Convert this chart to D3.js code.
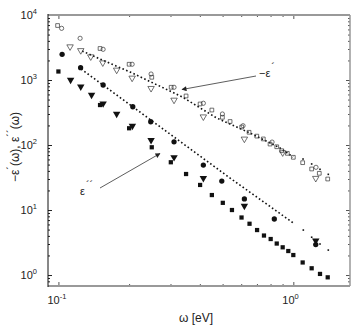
<!DOCTYPE html>
<html><head><meta charset="utf-8">
<script src="https://cdn.jsdelivr.net/npm/d3@7"></script>
<style>body{margin:0;background:#fff}svg{display:block}text{font-family:"Liberation Sans",Arial,sans-serif;fill:#222}</style>
</head><body>
<svg id="c" width="354" height="327"></svg>
<script>
// ---- data (omega in eV, values) ----
const epsRealSquares = [[0.0992,6890],[0.1504,3054],[0.2,1747],[0.2497,1101],[0.302,773],[0.3495,568],[0.401,428],[0.45,345],[0.499,267],[0.538,230],[0.603,189],[0.648,157],[0.699,137],[0.745,124],[0.796,103.5],[0.85,94],[0.893,81.7],[0.943,74.5],[1.0,64.7],[1.096,53.5],[1.197,42.8],[1.29,36.7],[1.401,30]];
const epsRealCircles = [[0.1032,6237],[0.1237,4383],[0.155,2965],[0.206,1747],[0.248,1236],[0.3106,773],[0.414,439],[0.499,300],[0.611,198],[0.812,111],[1.249,45.4]];
const epsRealTriangles = [[0.1121,3254],[0.1245,2845],[0.1373,2281],[0.1545,1845],[0.177,1426],[0.206,1074],[0.248,745],[0.3106,492],[0.414,272],[0.619,124],[0.901,76.3],[1.246,30.8]];
const epsRealTheory = [[0.1262,2794],[0.1504,2104],[0.2019,1327],[0.248,931],[0.335,554],[0.472,260],[0.654,153],[0.878,90],[0.997,65.3]];
const epsRealTheorySparse = [[1.1,60.9],[1.197,51.1],[1.299,42.3],[1.409,35.4]];

const epsImagCircles = [[0.1037,2483],[0.1243,1545],[0.155,838],[0.2073,388],[0.2472,228],[0.3106,112],[0.414,49.2],[0.496,27.9],[0.619,14.8],[0.83,7.28],[1.246,2.94]];
const epsImagTriangles = [[0.1127,1000],[0.1245,789],[0.1384,588],[0.155,434],[0.177,300],[0.2065,196],[0.248,119],[0.3106,64.7],[0.414,30.8],[0.619,11.6],[1.246,3.37]];
const epsImagSquares = [[0.1,1352],[0.1504,412],[0.2,181],[0.2497,92.3],[0.301,54.3],[0.3495,35.8],[0.401,24.3],[0.45,17.0],[0.501,12.9],[0.548,10.0],[0.602,7.67],[0.651,6.15],[0.701,4.92],[0.75,4.05],[0.801,3.58],[0.85,3.05],[0.901,2.67],[0.952,2.34],[1.0,2.03],[1.096,1.56],[1.197,1.27],[1.299,1.04],[1.401,0.922]];
const epsImagTheory = [[0.1249,1476],[0.2472,243],[0.538,31.0],[1.0,6.31]];
const epsImagTheorySparse = [[1.103,4.92],[1.197,3.815],[1.299,3.0],[1.409,2.42]];

const xMajorTicks = [0.1, 1];
const yMajorTicks = [1, 10, 100, 1000, 10000];
const xTickExp = ["-1", "0"];
const yTickExp = ["0", "1", "2", "3", "4"];

// ---- layout ----
const L = 48, R = 350, T = 15, B = 286;
const svg = d3.select("#c");
const x = d3.scaleLog().domain([0.0903, 1.743]).range([L, R]);
const y = d3.scaleLog().domain([0.678, 10000]).range([B, T]);

// minor ticks
const xMinor = [], yMinor = [];
for (const d of [0.01, 0.1, 1]) for (let k = 2; k <= 9; k++) { const v = d * k; if (v > x.domain()[0] && v < x.domain()[1]) xMinor.push(v); }
for (const d of [0.1, 1, 10, 100, 1000]) for (let k = 2; k <= 9; k++) { const v = d * k; if (v > y.domain()[0] && v < y.domain()[1]) yMinor.push(v); }

const g = svg.append("g");
function axisTicks(axisFn, scale, vals, size, tr, col) {
  const a = axisFn(scale).tickValues(vals).tickSize(size).tickFormat("");
  const ag = g.append("g").attr("transform", tr).call(a);
  ag.select(".domain").remove();
  ag.selectAll("line").attr("stroke", col).attr("stroke-width", 1);
}
// inward ticks
axisTicks(d3.axisBottom, x, xMajorTicks, -4, `translate(0,${B})`, "#555");
axisTicks(d3.axisBottom, x, xMinor, -2, `translate(0,${B})`, "#555");
axisTicks(d3.axisTop, x, xMajorTicks, -4, `translate(0,${T})`, "#555");
axisTicks(d3.axisTop, x, xMinor, -2, `translate(0,${T})`, "#555");
axisTicks(d3.axisLeft, y, yMajorTicks, -4, `translate(${L},0)`, "#222");
axisTicks(d3.axisLeft, y, yMinor, -2, `translate(${L},0)`, "#222");
axisTicks(d3.axisRight, y, yMajorTicks, -4, `translate(${R},0)`, "#555");
axisTicks(d3.axisRight, y, yMinor, -2, `translate(${R},0)`, "#555");

// frame
g.append("line").attr("x1", L).attr("x2", R).attr("y1", T).attr("y2", T).attr("stroke", "#999").attr("stroke-width", 2);
g.append("line").attr("x1", L).attr("x2", R).attr("y1", B).attr("y2", B).attr("stroke", "#999").attr("stroke-width", 2);
g.append("line").attr("x1", R).attr("x2", R).attr("y1", T).attr("y2", B).attr("stroke", "#999").attr("stroke-width", 1.5);
g.append("line").attr("x1", L).attr("x2", L).attr("y1", T - 1).attr("y2", B + 1).attr("stroke", "#111").attr("stroke-width", 1);

// tick labels
yMajorTicks.forEach((v, i) => {
  const t = g.append("text").attr("x", 37).attr("y", y(v) + 4).attr("text-anchor", "end").attr("font-size", 11);
  t.append("tspan").text("10");
  t.append("tspan").attr("dy", -5).attr("font-size", 7.5).text(yTickExp[i]);
});
xMajorTicks.forEach((v, i) => {
  const t = g.append("text").attr("x", x(v) - 11).attr("y", 304).attr("font-size", 11);
  t.append("tspan").text("10");
  t.append("tspan").attr("dy", -5).attr("font-size", 7.5).text(xTickExp[i]);
});

// axis titles
const xl = g.append("text").attr("x", 196).attr("y", 322).attr("text-anchor", "middle").attr("font-size", 12);
xl.append("tspan").text("ω [eV]");
const yl = g.append("text").attr("transform", "translate(19,147) rotate(-90)").attr("text-anchor", "middle").attr("font-size", 12);
yl.append("tspan").text("−ε");
yl.append("tspan").attr("dy", -4).attr("font-size", 11).text("´");
yl.append("tspan").attr("dy", 4).text("(ω), ε");
yl.append("tspan").attr("dy", -4).attr("font-size", 11).text("´´");
yl.append("tspan").attr("dy", 4).text("(ω)");

// theory dotted lines
const line = d3.line().x(d => x(d[0])).y(d => y(d[1]));
[epsRealTheory, epsImagTheory].forEach(s => {
  g.append("path").attr("d", line(s)).attr("fill", "none").attr("stroke", "#111").attr("stroke-width", 1.6).attr("stroke-dasharray", "1.6,2.4");
});
[epsRealTheorySparse, epsImagTheorySparse].forEach(s => {
  g.selectAll(null).data(s).enter().append("rect")
    .attr("x", d => x(d[0]) - 0.8).attr("y", d => y(d[1]) - 0.8).attr("width", 1.6).attr("height", 1.6).attr("fill", "#111");
});

// markers
const sq = d3.symbol().type(d3.symbolSquare).size(14)();
const sqF = d3.symbol().type(d3.symbolSquare).size(18)();
const ci = d3.symbol().type(d3.symbolCircle).size(14)();
const ciF = d3.symbol().type(d3.symbolCircle).size(22)();
const tri = d3.symbol().type(d3.symbolTriangle).size(18)();
const triF = d3.symbol().type(d3.symbolTriangle).size(24)();
function markers(data, path, filled, rot) {
  g.selectAll(null).data(data).enter().append("path")
    .attr("d", path)
    .attr("transform", d => `translate(${x(d[0])},${y(d[1])})` + (rot ? " rotate(180)" : ""))
    .attr("fill", filled ? "#111" : "none")
    .attr("stroke", filled ? "none" : "#333")
    .attr("stroke-width", 0.7);
}
markers(epsRealSquares, sq, false, false);
markers(epsRealCircles, ci, false, false);
markers(epsRealTriangles, tri, false, true);
markers(epsImagSquares, sqF, true, false);
markers(epsImagCircles, ciF, true, false);
markers(epsImagTriangles, triF, true, true);

// annotations
const defs = svg.append("defs");
defs.append("marker").attr("id", "ah").attr("viewBox", "0 0 10 10").attr("refX", 9).attr("refY", 5)
  .attr("markerWidth", 9).attr("markerHeight", 5).attr("markerUnits", "userSpaceOnUse").attr("orient", "auto")
  .append("path").attr("d", "M0,0L10,5L0,10z").attr("fill", "#222");
g.append("line").attr("x1", 256).attr("y1", 76).attr("x2", 182).attr("y2", 89.5).attr("stroke", "#333").attr("stroke-width", 0.8).attr("marker-end", "url(#ah)");
g.append("line").attr("x1", 100).attr("y1", 188).attr("x2", 160).attr("y2", 153.5).attr("stroke", "#333").attr("stroke-width", 0.8).attr("marker-end", "url(#ah)");
const a1 = g.append("text").attr("x", 259).attr("y", 77).attr("font-size", 11);
a1.append("tspan").text("−ε");
a1.append("tspan").attr("dy", -6).attr("dx", 1).attr("font-size", 11).text("´");
const a2 = g.append("text").attr("x", 80).attr("y", 195).attr("font-size", 11);
a2.append("tspan").text("ε");
a2.append("tspan").attr("dy", -6).attr("dx", 1).attr("font-size", 11).text("´´");
</script>
</body></html>
